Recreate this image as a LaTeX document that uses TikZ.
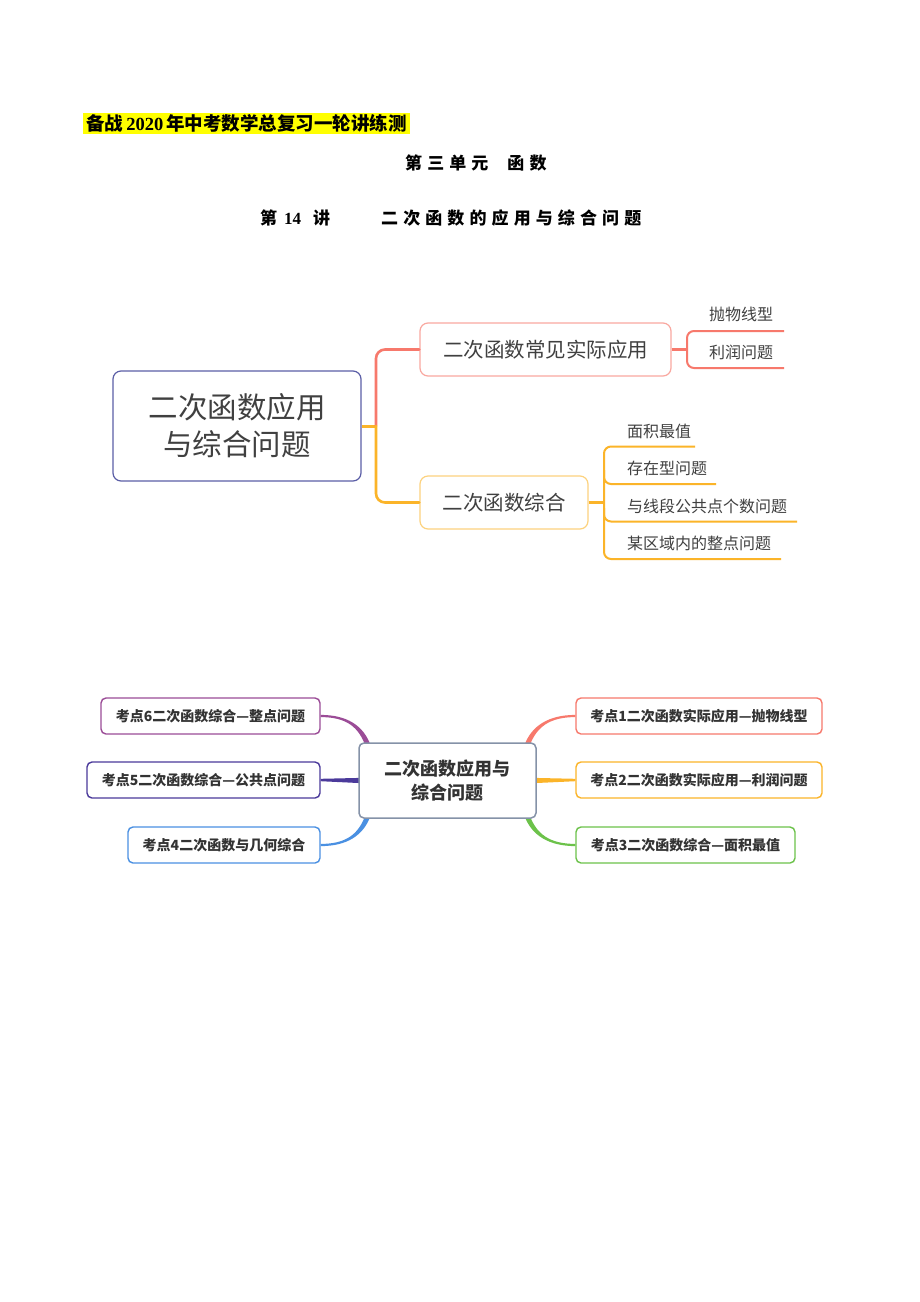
\documentclass[tikz,border=0pt]{standalone}
\usepackage{fontspec}
\usetikzlibrary{calc}
\setmainfont{Liberation Serif}
\newfontfamily\cjk{Noto Sans CJK SC}
\newfontfamily\cjkhead[LetterSpace=30]{Noto Sans CJK SC}
\definecolor{redc}{HTML}{F7796C}
\definecolor{orangec}{HTML}{FBB429}
\definecolor{boxAc}{HTML}{F9A8A0}
\definecolor{boxBc}{HTML}{FDD27E}
\definecolor{rootc}{HTML}{5B5EA6}
\definecolor{txt}{HTML}{404040}
\definecolor{txtb}{HTML}{333333}
\definecolor{greenc}{HTML}{6CC24A}
\definecolor{bluec}{HTML}{4A90E2}
\definecolor{indigoc}{HTML}{4B3A9B}
\definecolor{purplec}{HTML}{9B4C97}
\definecolor{cenc}{HTML}{8592A8}
\definecolor{hl}{HTML}{FFFF00}
\pgfdeclarelayer{back}
\pgfdeclarelayer{conn}
\pgfsetlayers{back,conn,main}
\tikzset{
  bx/.style={draw, rounded corners=6pt, fill=white, inner sep=0pt, line width=1.2pt},
  kd/.style={draw, rounded corners=5pt, fill=white, inner sep=0pt, line width=1.4pt,
     minimum height=36pt, text=txtb, font=\cjk\bfseries\fontsize{14}{16}\selectfont},
  sub/.style={anchor=west, inner sep=0pt, text=txt, font=\cjk\fontsize{16}{18}\selectfont},
  hd/.style={inner sep=0pt, text=black},
  conA/.style={line width=2.6pt, line cap=round},
  brk/.style={line width=2pt, rounded corners=7pt}
}
\begin{document}
\begin{tikzpicture}[x=1pt,y=-1pt]
\begin{pgfonlayer}{back}
\path[use as bounding box, fill=white] (0,0) rectangle (920,1302);
\end{pgfonlayer}

% ---------- header ----------
\node[hd, anchor=west, fill=hl, inner xsep=3pt, minimum height=21pt,
  font=\fontsize{18.5}{18.5}\selectfont] (h1) at (83,123.5)
  {{\cjk\bfseries 备战}\,{\bfseries 2020}\,{\cjk\bfseries 年中考数学总复习一轮讲练测}};
\node[hd, anchor=west, font=\cjkhead\bfseries\fontsize{17}{17}\selectfont] (h2) at (405,163)
  {第三单元\hspace{19pt}函数};
\node[hd, anchor=west, font=\cjkhead\bfseries\fontsize{17}{17}\selectfont] (h3) at (260,218)
  {第\hspace{7pt}{\rmfamily\bfseries 14}\hspace{12pt}讲};
\node[hd, anchor=west, font=\cjkhead\bfseries\fontsize{17}{17}\selectfont] (h3b) at (381,218)
  {二次函数的应用与综合问题};

% ---------- upper mind map ----------
\node[bx, draw=rootc, rounded corners=8pt, minimum width=248pt, minimum height=110pt,
  align=center, text=txt, font=\cjk\fontsize{29.5}{37}\selectfont] (root) at (237,426)
  {二次函数应用\\与综合问题};
\node[bx, draw=boxAc, rounded corners=8pt, minimum width=251pt, minimum height=53pt,
  text=txt, font=\cjk\fontsize{20.5}{22}\selectfont] (bA) at (545.5,349.5) {二次函数常见实际应用};
\node[bx, draw=boxBc, rounded corners=8pt, minimum width=168pt, minimum height=53pt,
  text=txt, font=\cjk\fontsize{20.5}{22}\selectfont] (bB) at (504,502.5) {二次函数综合};

\coordinate (j) at (376,426);
\draw[orangec, line width=3pt] (root.east) -- (j);
\draw[redc, conA, rounded corners=9pt] (j) |- (bA.west);
\draw[orangec, conA, rounded corners=9pt] (j) |- (bB.west);

% sub-branches of A
\node[sub] (a1) at (709,314.5) {抛物线型};
\node[sub] (a2) at (709,352) {利润问题};
\coordinate (ajA) at (687,349.5);
\coordinate (a1e) at (784,331);
\coordinate (a2e) at (784,368);
\draw[redc, line width=2.4pt] (bA.east) -- (ajA);
\draw[redc, brk] (a1e) -| (ajA) |- (a2e);

% sub-branches of B
\node[sub] (b1) at (627,431) {面积最值};
\node[sub] (b2) at (627,468.5) {存在型问题};
\node[sub] (b3) at (627,506) {与线段公共点个数问题};
\node[sub] (b4) at (627,543.5) {某区域内的整点问题};
\coordinate (bj) at (604,502.5);
\coordinate (b1e) at (695,446.5);
\coordinate (b2e) at (716,484);
\coordinate (b3e) at (797,521.5);
\coordinate (b4e) at (781,559);
\draw[orangec, line width=2.4pt] (bB.east) -- (bj);
\draw[orangec, brk] (b1e) -| (bj) |- (b4e);
\draw[orangec, brk] (604,470) |- (b2e);
\draw[orangec, brk] (604,508) |- (b3e);

% ---------- lower mind map ----------
\node[bx, draw=cenc, rounded corners=5pt, line width=1.5pt, minimum width=177pt, minimum height=75pt,
  align=center, text=txtb, font=\cjk\bfseries\fontsize{18}{23.5}\selectfont] (cen) at (447.5,780.5)
  {二次函数应用与\\综合问题};

\node[kd, draw=redc, minimum width=246pt] (k1) at (699,716) {考点1二次函数实际应用—抛物线型};
\node[kd, draw=orangec, minimum width=246pt] (k2) at (699,780) {考点2二次函数实际应用—利润问题};
\node[kd, draw=greenc, minimum width=219pt] (k3) at (685.5,845) {考点3二次函数综合—面积最值};
\node[kd, draw=bluec, minimum width=192pt] (k4) at (224,845) {考点4二次函数与几何综合};
\node[kd, draw=indigoc, minimum width=233pt] (k5) at (203.5,780) {考点5二次函数综合—公共点问题};
\node[kd, draw=purplec, minimum width=219pt] (k6) at (210.5,716) {考点6二次函数综合—整点问题};

\coordinate (s1) at ([xshift=-10pt,yshift=-4pt]cen.north east);
\coordinate (s3) at ([xshift=-10pt,yshift=4pt]cen.south east);
\coordinate (s6) at ([xshift=10pt,yshift=-4pt]cen.north west);
\coordinate (s4) at ([xshift=10pt,yshift=4pt]cen.south west);

\begin{pgfonlayer}{conn}
% right top
\fill[redc] ($(s1)+(2.35,0.83)$) .. controls ($(s1)+(9.35,-19.17)$) and ($(k1.west)+(-26,1.1)$) .. ($(k1.west)+(0,1.1)$)
  -- ($(k1.west)+(0,-1.1)$) .. controls ($(k1.west)+(-26,-1.1)$) and ($(s1)+(4.65,-20.83)$) .. ($(s1)+(-2.35,-0.83)$) -- cycle;
% right middle
\fill[orangec] ($(cen.east)+(-2,-2.6)$) -- ($(k2.west)+(0,-1.2)$) -- ($(k2.west)+(0,1.2)$) -- ($(cen.east)+(-2,2.6)$) -- cycle;
% right bottom
\fill[greenc] ($(s3)+(2.35,-0.83)$) .. controls ($(s3)+(9.35,19.17)$) and ($(k3.west)+(-26,-1.1)$) .. ($(k3.west)+(0,-1.1)$)
  -- ($(k3.west)+(0,1.1)$) .. controls ($(k3.west)+(-26,1.1)$) and ($(s3)+(4.65,20.83)$) .. ($(s3)+(-2.35,0.83)$) -- cycle;
% left top
\fill[purplec] ($(s6)+(-2.35,0.83)$) .. controls ($(s6)+(-9.35,-19.17)$) and ($(k6.east)+(26,1.1)$) .. ($(k6.east)+(0,1.1)$)
  -- ($(k6.east)+(0,-1.1)$) .. controls ($(k6.east)+(26,-1.1)$) and ($(s6)+(-4.65,-20.83)$) .. ($(s6)+(2.35,-0.83)$) -- cycle;
% left middle
\fill[indigoc] ($(cen.west)+(2,-2.6)$) -- ($(k5.east)+(0,-1.2)$) -- ($(k5.east)+(0,1.2)$) -- ($(cen.west)+(2,2.6)$) -- cycle;
% left bottom
\fill[bluec] ($(s4)+(-2.35,-0.83)$) .. controls ($(s4)+(-9.35,19.17)$) and ($(k4.east)+(26,-1.1)$) .. ($(k4.east)+(0,-1.1)$)
  -- ($(k4.east)+(0,1.1)$) .. controls ($(k4.east)+(26,1.1)$) and ($(s4)+(-4.65,20.83)$) .. ($(s4)+(2.35,0.83)$) -- cycle;
\end{pgfonlayer}
\end{tikzpicture}
\end{document}
